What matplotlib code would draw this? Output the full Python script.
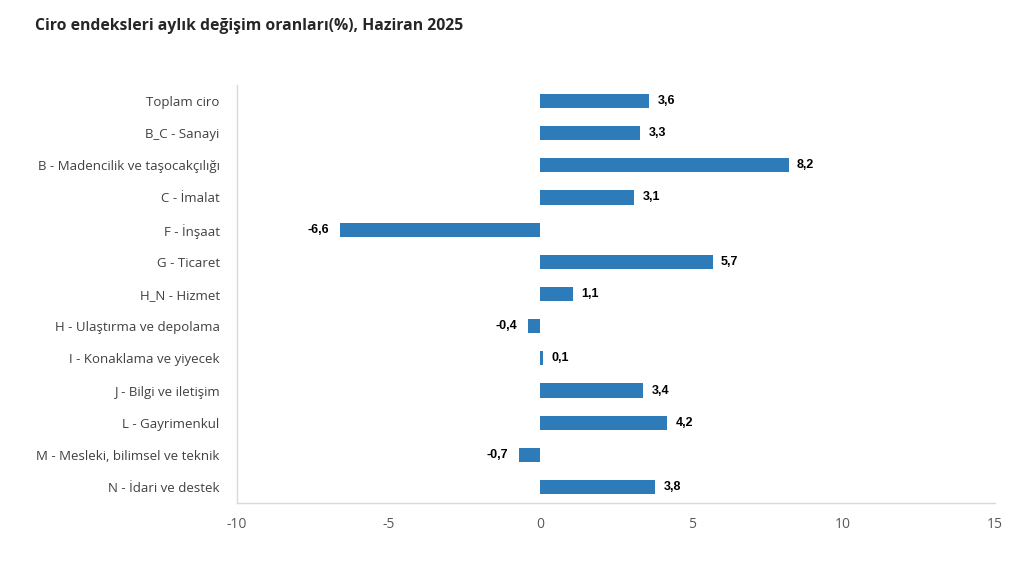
import matplotlib
matplotlib.use("Agg")
import matplotlib.pyplot as plt

categories = ["Toplam ciro", "B_C - Sanayi", "B - Madencilik ve taşocakçılığı", "C - İmalat",
              "F - İnşaat", "G - Ticaret", "H_N - Hizmet", "H - Ulaştırma ve depolama",
              "I - Konaklama ve yiyecek", "J - Bilgi ve iletişim", "L - Gayrimenkul",
              "M - Mesleki, bilimsel ve teknik", "N - İdari ve destek"]
values = [3.6, 3.3, 8.2, 3.1, -6.6, 5.7, 1.1, -0.4, 0.1, 3.4, 4.2, -0.7, 3.8]
xticks = [-10, -5, 0, 5, 10, 15]

fig = plt.figure(figsize=(10.35, 5.77), dpi=100)
ax = fig.add_axes([0.229, 0.128, 0.732, 0.725])
y = list(range(len(categories)))
ax.barh(y, values, height=0.44, color="#2E7BBA", zorder=3)
ax.set_ylim(len(categories) - 0.5, -0.5)
ax.set_xlim(-10, 15)
ax.set_xticks(xticks)
ax.set_xticklabels([str(t) for t in xticks], fontsize=10, color="#595959", family="Open Sans")
ax.set_yticks(y)
ax.set_yticklabels(categories, fontsize=9.5, color="#404040", family="Open Sans")
ax.tick_params(axis="y", length=0, pad=12.5)
ax.tick_params(axis="x", length=0, pad=10)
for s in ["top", "right"]:
    ax.spines[s].set_visible(False)
for s in ["left", "bottom"]:
    ax.spines[s].set_color("#D9D9D9")
    ax.spines[s].set_linewidth(1)

for yi, v in zip(y, values):
    txt = f"{v:.1f}".replace(".", ",")
    if v >= 0:
        ax.annotate(txt, (v, yi), xytext=(6, 0), textcoords="offset points",
                    ha="left", va="center", fontsize=9, fontweight="bold",
                    family="Liberation Sans", color="black")
    else:
        ax.annotate(txt, (v, yi), xytext=(-8, 0), textcoords="offset points",
                    ha="right", va="center", fontsize=9, fontweight="bold",
                    family="Liberation Sans", color="black")

fig.text(0.034, 0.955, "Ciro endeksleri aylık değişim oranları(%), Haziran 2025",
         fontsize=11.3, fontweight="bold", color="#262626", family="Open Sans", va="center")

fig.savefig("out.png", dpi=100, facecolor="white")
